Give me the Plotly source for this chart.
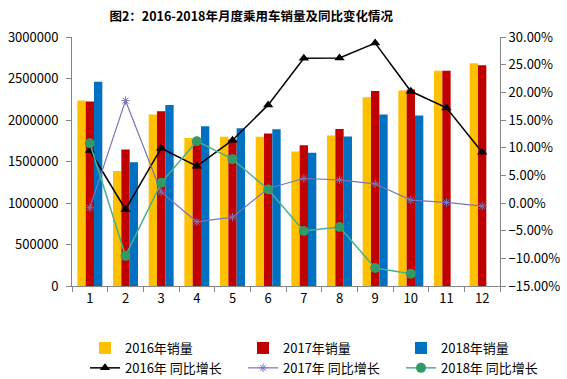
import plotly.graph_objects as go

months = ["1", "2", "3", "4", "5", "6", "7", "8", "9", "10", "11", "12"]

sales_2016 = [2234000, 1387000, 2065000, 1784000, 1797000, 1797000, 1620000, 1813000, 2274000, 2354000, 2594000, 2683000]
sales_2017 = [2222000, 1644000, 2105000, 1760000, 1765000, 1837000, 1696000, 1893000, 2350000, 2366000, 2594000, 2659000]
sales_2018 = [2462000, 1492000, 2181000, 1925000, 1901000, 1889000, 1604000, 1800000, 2065000, 2053000, None, None]

yoy_2016 = [0.0949, -0.0116, 0.0990, 0.0666, 0.1135, 0.1773, 0.2615, 0.2620, 0.2890, 0.2019, 0.1719, 0.0918]
yoy_2017 = [-0.0086, 0.1851, 0.0197, -0.0339, -0.0255, 0.0263, 0.0443, 0.0419, 0.0347, 0.0052, 0.0010, -0.0056]
yoy_2018 = [0.1081, -0.0955, 0.0365, 0.1117, 0.0792, 0.0245, -0.0507, -0.0435, -0.1175, -0.1277, None, None]

FONT = "Noto Sans CJK SC"
AXIS_COLOR = "#868686"

fig = go.Figure()

fig.add_trace(go.Bar(x=months, y=sales_2016, name="2016年销量", marker_color="#FFC000",
                     marker_line_width=0, legend="legend"))
fig.add_trace(go.Bar(x=months, y=sales_2017, name="2017年销量", marker_color="#C00000",
                     marker_line_width=0, legend="legend2"))
fig.add_trace(go.Bar(x=months, y=sales_2018, name="2018年销量", marker_color="#0070C0",
                     marker_line_width=0, legend="legend3"))

fig.add_trace(go.Scatter(x=months, y=yoy_2016, name="2016年 同比增长", yaxis="y2",
                         mode="lines+markers", line=dict(color="#000000", width=1.5),
                         marker=dict(symbol="triangle-up", size=9, color="#000000"),
                         legend="legend"))
fig.add_trace(go.Scatter(x=months, y=yoy_2017, name="2017年 同比增长", yaxis="y2",
                         mode="lines+markers", line=dict(color="#7676BA", width=1.2),
                         marker=dict(symbol="asterisk-open", size=7,
                                     line=dict(color="#7676BA", width=1)),
                         legend="legend2"))
fig.add_trace(go.Scatter(x=months, y=yoy_2018, name="2018年 同比增长", yaxis="y2",
                         mode="lines+markers", line=dict(color="#4BAF8C", width=1.5),
                         marker=dict(symbol="circle", size=10, color="#339966"),
                         legend="legend3"))

def legend_box(xpix):
    return dict(orientation="v", x=xpix / 567, xref="container", xanchor="left",
                y=(379 - 333) / 379, yref="container", yanchor="top",
                traceorder="normal", font=dict(size=13), bgcolor="rgba(0,0,0,0)",
                itemwidth=30, tracegroupgap=0)

fig.update_layout(
    width=567, height=379,
    margin=dict(l=72, r=67, t=37, b=93, autoexpand=False),
    paper_bgcolor="white", plot_bgcolor="white",
    font=dict(family=FONT, size=13, color="#000000"),
    title=dict(text="<b>图2：2016-2018年月度乘用车销量及同比变化情况</b>",
               x=0.443, xanchor="center", y=1 - 17 / 379, yanchor="middle",
               font=dict(family=FONT, size=12.5, color="#000000")),
    barmode="group", bargap=0.3, bargroupgap=0,
    xaxis=dict(type="category", range=[-0.5, 11.5], tickson="boundaries",
               ticks="outside", ticklen=5,
               tickcolor=AXIS_COLOR, showline=True, linecolor=AXIS_COLOR, linewidth=1,
               showgrid=False, tickfont=dict(size=13)),
    yaxis=dict(range=[0, 3000000], dtick=500000, tickformat="d", ticks="outside",
               ticklen=5, tickcolor=AXIS_COLOR, showline=True, linecolor=AXIS_COLOR,
               showgrid=False, zeroline=False, tickfont=dict(size=13),
               ticklabelstandoff=5),
    yaxis2=dict(overlaying="y", side="right", range=[-0.15, 0.30], dtick=0.05,
                tickformat=".2%", ticks="outside", ticklen=5, tickcolor=AXIS_COLOR,
                showline=True, linecolor=AXIS_COLOR, showgrid=False, zeroline=False,
                tickfont=dict(size=13)),
    legend=legend_box(85),
    legend2=legend_box(243),
    legend3=legend_box(401),
)

fig.write_html("out.html", config={"displayModeBar": False},
               post_script="document.body.style.margin='0';")
